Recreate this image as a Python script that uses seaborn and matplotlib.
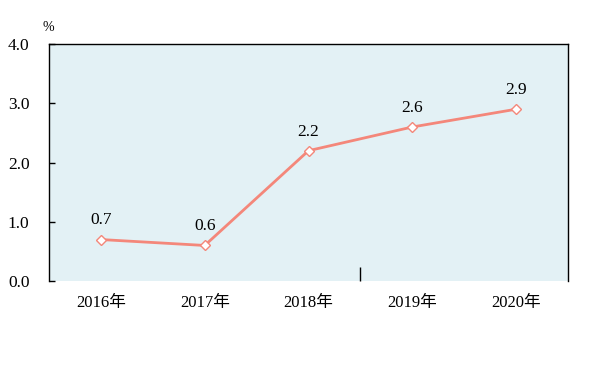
import matplotlib
matplotlib.use('Agg')
import matplotlib.pyplot as plt
import seaborn as sns
import pandas as pd

years = ['2016年', '2017年', '2018年', '2019年', '2020年']
values = [0.7, 0.6, 2.2, 2.6, 2.9]
yticks = [0.0, 1.0, 2.0, 3.0, 4.0]

sns.set_style('white')
plt.rcParams['font.family'] = ['Liberation Serif', 'Noto Sans CJK SC', 'DejaVu Sans']
plt.rcParams['text.color'] = 'black'
plt.rcParams['xtick.color'] = 'black'
plt.rcParams['ytick.color'] = 'black'

df = pd.DataFrame({'year': years, 'value': values})

fig = plt.figure(figsize=(6, 3.72), dpi=100)
ax = fig.add_axes([0.0817, 0.2446, 0.865, 0.637])
ax.set_facecolor('#E3F1F5')

sns.lineplot(data=df, x='year', y='value', ax=ax, color='#F4877A', linewidth=2,
             marker='D', markersize=5, markerfacecolor='white',
             markeredgecolor='#F4877A', markeredgewidth=1)

for i, v in enumerate(values):
    ax.annotate('%.1f' % v, (i, v), xytext=(0, 8), textcoords='offset points',
                ha='center', va='bottom', fontsize=12.5, color='black')

ax.set_xlim(-0.5, 4.5)
ax.set_ylim(0, 4)
ax.set_yticks(yticks)
ax.set_yticklabels(['%.1f' % t for t in yticks], fontsize=12.5)
ax.tick_params(axis='y', direction='in', length=4, width=1, pad=14, left=True,
               colors='black')
ax.tick_params(axis='x', length=0, pad=10, labelsize=12, colors='black')
ax.set_xticks([2.5], minor=True)
ax.tick_params(axis='x', which='minor', direction='in', length=10, width=1, bottom=True)
ax.set_xlabel('')
ax.set_ylabel('')

for s in ['left', 'top', 'right']:
    ax.spines[s].set_color('black')
    ax.spines[s].set_linewidth(1)
ax.spines['bottom'].set_visible(False)

fig.text(0.08, 0.925, '%', fontsize=10, ha='center', va='center', color='black')

fig.savefig('out.png', dpi=100)
